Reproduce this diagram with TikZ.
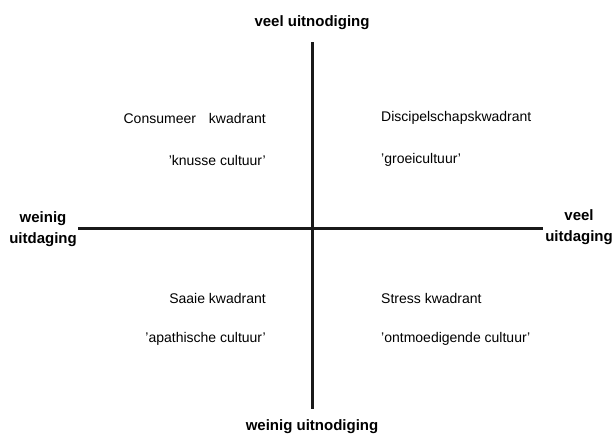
\documentclass[tikz,border=0pt]{standalone}
\usepackage{fontspec}
\setmainfont{Liberation Sans}
\usetikzlibrary{positioning}

\begin{document}
\begin{tikzpicture}[
  x=1pt, y=-1pt,
  every node/.style={font=\fontsize{14}{17}\selectfont, inner sep=1pt},
  axis/.style={line width=3pt, black!90},
  pole/.style={font=\fontsize{15}{21}\selectfont\bfseries, align=center},
  lquad/.style={anchor=east},
  rquad/.style={anchor=west},
]
\useasboundingbox (0,0) rectangle (612,439);
% axes
\coordinate (n) at (312,42);
\coordinate (s) at (312,409);
\coordinate (w) at (78,228);
\coordinate (e) at (543,228);
\draw[axis] (n) -- (s);
\draw[axis] (w) -- (e);
% pole labels
\node[pole] (veeluit)  at (312,23)  {veel uitnodiging};
\node[pole] (weinuit)  at (312,427) {weinig uitnodiging};
\node[pole] (weinuitd) at (43,229)  {weinig\\uitdaging};
\node[pole] (veeluitd) at (579,227) {veel\\uitdaging};
% quadrants
\node[lquad] (cons)  at (267,118) {Consumeer\hspace{13pt}kwadrant};
\node[lquad] (knus)  at (267,160) {'knusse cultuur'};
\node[rquad] (disc)  at (380,118) {Discipelschapskwadrant};
\node[rquad] (groei) at (380,160) {'groeicultuur'};
\node[lquad] (saai)  at (267,298) {Saaie kwadrant};
\node[lquad] (apat)  at (267,339) {'apathische cultuur'};
\node[rquad] (stres) at (380,298) {Stress kwadrant};
\node[rquad] (ontm)  at (380,339) {'ontmoedigende cultuur'};
\end{tikzpicture}
\end{document}
